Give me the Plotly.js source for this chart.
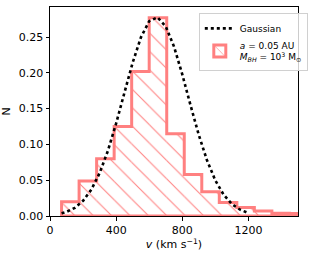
<!DOCTYPE html>
<html>
<head>
<meta charset="utf-8">
<script src="https://cdn.plot.ly/plotly-3.0.1.min.js"></script>
<style>
html,body{margin:0;padding:0;background:#fff;}
#chart{width:315px;height:253px;}
</style>
</head>
<body>
<div id="chart"></div>
<script>
// Histogram bin edges (km/s) and normalised counts
var binEdges = [70, 176, 282, 388, 494, 600, 706, 812, 918, 1024, 1130, 1236, 1342, 1448, 1554];
var binCounts = [0.020, 0.049, 0.080, 0.125, 0.202, 0.277, 0.115, 0.058, 0.034, 0.019, 0.012, 0.007, 0.004, 0.0035];

// Gaussian curve
var gaussX = [70, 100, 150, 200, 250, 300, 350, 400, 450, 500, 550, 600, 650, 700, 750, 800, 850, 900, 950, 1000, 1050, 1100, 1150, 1195];
var gaussY = [0.0037, 0.0058, 0.0114, 0.0212, 0.0369, 0.0599, 0.0910, 0.1293, 0.1721, 0.2143, 0.2496, 0.2722, 0.2776, 0.2650, 0.2367, 0.1979, 0.1547, 0.1132, 0.0775, 0.0497, 0.0298, 0.0167, 0.0088, 0.0046];

var xTicks = [0, 400, 800, 1200];
var yTicks = [0, 0.05, 0.10, 0.15, 0.20, 0.25];

var pink = 'rgb(255,128,128)';
var clear = 'rgba(0,0,0,0)';
var FONT = 'DejaVu Sans, sans-serif';

// bar centres/widths from the edges (last bin first so the legend swatch takes its outline)
var barX = [], barW = [], barY = [], barLineCol = [];
for (var i = binCounts.length - 1; i >= 0; i--) {
  barX.push((binEdges[i] + binEdges[i + 1]) / 2);
  barW.push(binEdges[i + 1] - binEdges[i]);
  barY.push(binCounts[i]);
  barLineCol.push(i === binCounts.length - 1 ? pink : clear);
}

// closed step outline from the histogram arrays
var hx = [binEdges[0]], hy = [0];
for (var j = 0; j < binCounts.length; j++) {
  hx.push(binEdges[j]); hy.push(binCounts[j]);
  hx.push(binEdges[j + 1]); hy.push(binCounts[j]);
}
hx.push(binEdges[binEdges.length - 1]); hy.push(0);
hx.push(binEdges[0]); hy.push(0);

var traces = [
  {
    type: 'bar', x: barX, y: barY, width: barW,
    marker: {
      color: clear,
      line: {color: barLineCol, width: 3},
      pattern: {shape: '\\', fgcolor: pink, bgcolor: clear, size: 13, solidity: 0.08}
    },
    name: '<i>a</i> = 0.05 AU<br><i>M</i><sub><i>BH</i></sub> = 10<sup>3</sup> M<sub>⊙</sub>',
    legendrank: 2, hoverinfo: 'skip'
  },
  {
    x: hx, y: hy, type: 'scatter', mode: 'lines',
    line: {color: pink, width: 3},
    showlegend: false, hoverinfo: 'skip'
  },
  {
    x: gaussX, y: gaussY, type: 'scatter', mode: 'lines',
    line: {color: 'black', width: 2.6, dash: 'dot'},
    name: 'Gaussian', legendrank: 1, hoverinfo: 'skip'
  }
];

var layout = {
  width: 315, height: 253,
  margin: {l: 50, r: 8, t: 7, b: 37},
  paper_bgcolor: '#fff', plot_bgcolor: '#fff',
  font: {family: FONT, size: 11, color: 'black'},
  showlegend: true,
  barmode: 'overlay',
  legend: {
    x: 0.6, y: 0.972, xanchor: 'left', yanchor: 'top',
    bgcolor: 'rgba(255,255,255,0.8)', bordercolor: '#d0d0d0', borderwidth: 1,
    font: {family: FONT, size: 9, color: 'black'},
    tracegroupgap: 0, itemwidth: 30
  },
  xaxis: {
    range: [0, 1500], tickvals: xTicks, ticktext: xTicks.map(String),
    showgrid: false, zeroline: false,
    showline: true, mirror: true, linecolor: 'black', linewidth: 1,
    ticks: 'outside', ticklen: 3.5, tickwidth: 1, tickcolor: 'black',
    tickfont: {family: FONT, size: 11},
    title: {text: '<i>v</i> (km s<sup>−1</sup>)', font: {family: FONT, size: 11}, standoff: 2}
  },
  yaxis: {
    range: [0, 0.292], tickvals: yTicks, ticktext: yTicks.map(function(v){return v.toFixed(2);}),
    showgrid: false, zeroline: false,
    showline: true, mirror: true, linecolor: 'black', linewidth: 1,
    ticks: 'outside', ticklen: 3.5, tickwidth: 1, tickcolor: 'black',
    tickfont: {family: FONT, size: 11},
    title: {text: 'N', font: {family: FONT, size: 11}, standoff: 6}
  }
};

Plotly.newPlot('chart', traces, layout, {displayModeBar: false, staticPlot: true});
</script>
</body>
</html>
